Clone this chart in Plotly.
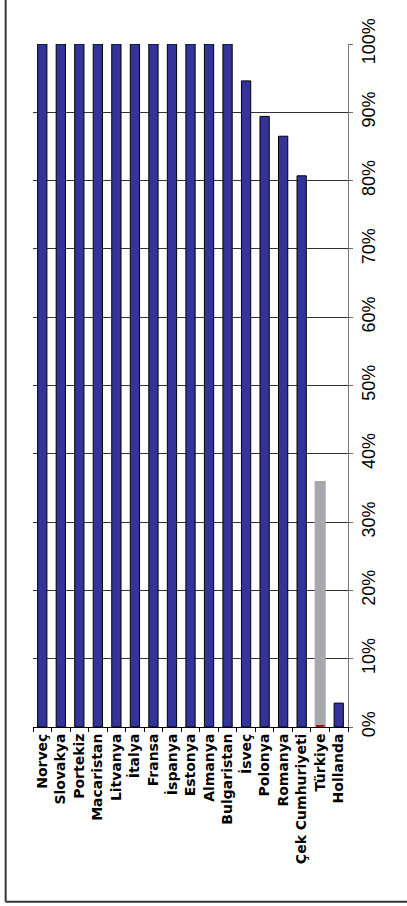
import plotly.graph_objects as go

categories = ["Norveç", "Slovakya", "Portekiz", "Macaristan", "Litvanya", "İtalya",
              "Fransa", "İspanya", "Estonya", "Almanya", "Bulgaristan", "İsveç",
              "Polonya", "Romanya", "Çek Cumhuriyeti", "Türkiye", "Hollanda"]
main_values = [1.0, 1.0, 1.0, 1.0, 1.0, 1.0, 1.0, 1.0, 1.0, 1.0, 1.0,
               0.946, 0.894, 0.865, 0.807, None, 0.035]
turkey_gray = [None] * 15 + [0.36, None]
turkey_red = [None] * 15 + [0.003, None]
tick_vals = [0, 0.1, 0.2, 0.3, 0.4, 0.5, 0.6, 0.7, 0.8, 0.9, 1.0]
tick_text = ["0%", "10%", "20%", "30%", "40%", "50%", "60%", "70%", "80%", "90%", "100%"]

fig = go.Figure()
fig.add_trace(go.Bar(x=categories, y=turkey_gray, width=0.6,
                     marker=dict(color="#a7a8ac", line=dict(width=0)), showlegend=False))
fig.add_trace(go.Bar(x=categories, y=main_values, width=0.5,
                     marker=dict(color="#333399", line=dict(color="#000000", width=1)),
                     showlegend=False))
fig.add_trace(go.Bar(x=categories, y=turkey_red, width=0.45,
                     marker=dict(color="#b01010", line=dict(width=0)), showlegend=False))

fig.update_layout(
    width=407, height=906,
    margin=dict(l=33, r=59, t=44, b=179),
    barmode="overlay",
    plot_bgcolor="white", paper_bgcolor="white",
    xaxis=dict(
        type="category", tickangle=-90, ticks="outside", ticklen=4, tickcolor="#000",
        tickson="boundaries", showline=True, linecolor="#000", linewidth=1,
        showgrid=False, automargin=False,
        tickfont=dict(family="DejaVu Sans", size=14, color="#000", weight="bold"),
    ),
    yaxis=dict(
        side="right", range=[0, 1.0], tickvals=tick_vals, ticktext=tick_text,
        tickangle=-90, ticks="outside", ticklen=4, tickcolor="#666",
        showline=True, linecolor="#777", linewidth=1, automargin=False,
        showgrid=True, gridcolor="#333", gridwidth=1, zeroline=False,
        tickfont=dict(family="Liberation Sans, Arial", size=18, color="#000"),
    ),
    shapes=[
        dict(type="line", xref="paper", yref="paper",
             x0=-0.0868, y0=-0.2557, x1=-0.0868, y1=1.1,
             line=dict(color="#333", width=2)),
        dict(type="line", xref="paper", yref="paper",
             x0=-0.0868, y0=-0.2557, x1=1.3, y1=-0.2557,
             line=dict(color="#333", width=2)),
    ],
)

fig.write_html("out.html", config={"displayModeBar": False},
               post_script="document.body.style.margin='0px';")
